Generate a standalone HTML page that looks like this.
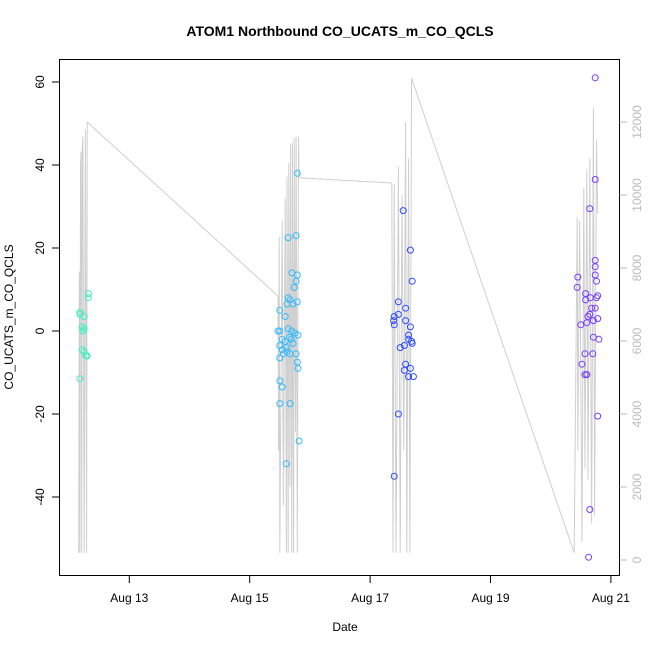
<!DOCTYPE html>
<html><head><meta charset="utf-8"><style>
html,body{margin:0;padding:0;background:#fff}
svg{display:block;font-family:"Liberation Sans",sans-serif}
</style></head><body>
<svg id="chart" width="650" height="650" viewBox="0 0 650 650">
<text x="340" y="36" text-anchor="middle" font-size="14" font-weight="bold">ATOM1 Northbound CO_UCATS_m_CO_QCLS</text>
<g id="alt"></g>
<g id="pts"></g>
<rect x="59.5" y="59.5" width="560" height="516" fill="none" stroke="#000" stroke-width="1"/>
<g id="axes"></g>
<text x="345" y="631" text-anchor="middle" font-size="12">Date</text>
<text transform="translate(13,317) rotate(-90)" text-anchor="middle" font-size="12">CO_UCATS_m_CO_QCLS</text>
</svg>
<script>
const xTickDays=[13,15,17,19,21];
const xTickLabels=["Aug 13","Aug 15","Aug 17","Aug 19","Aug 21"];
const yTicks=[-40,-20,0,20,40,60];
const y2Ticks=[0,2000,4000,6000,8000,10000,12000];
const flight1=[[12.18,4.5],[12.18,4.0],[12.32,9],[12.32,8],[12.25,3.5],[12.22,1],[12.25,0.5],[12.22,-4.5],[12.25,-5],[12.30,-6],[12.28,-6],[12.18,-11.5],[12.23,0]];
const flight2=[[15.79,38],[15.64,22.5],[15.77,23],[15.70,14],[15.79,13.5],[15.77,12],[15.74,10.5],[15.64,8],[15.67,7.5],[15.62,6.5],[15.72,6.5],[15.79,7],[15.50,5],[15.59,3.5],[15.47,0],[15.50,0],[15.64,0.5],[15.70,0],[15.75,-0.5],[15.80,-1],[15.54,-2],[15.59,-2.5],[15.66,-1.5],[15.69,-2],[15.72,-3],[15.50,-3.5],[15.61,-4],[15.54,-4.5],[15.62,-5],[15.67,-5.5],[15.56,-5.5],[15.50,-6.5],[15.77,-5.5],[15.79,-7.5],[15.80,-9],[15.50,-12],[15.54,-13.5],[15.67,-17.5],[15.50,-17.5],[15.82,-26.5],[15.61,-32]];
const flight3=[[17.55,29],[17.67,19.5],[17.70,12],[17.47,7],[17.59,5.5],[17.47,4],[17.40,3.5],[17.39,2.5],[17.40,1.5],[17.59,2.5],[17.67,1],[17.64,-1],[17.69,-2.5],[17.70,-3],[17.57,-3.5],[17.50,-4],[17.64,-2],[17.59,-8],[17.67,-9],[17.57,-9.5],[17.64,-11],[17.72,-11],[17.47,-20],[17.40,-35]];
const flight4=[[20.74,61],[20.74,36.5],[20.65,29.5],[20.74,17],[20.74,15.5],[20.74,13.5],[20.45,13],[20.44,10.5],[20.76,12],[20.58,9],[20.66,8],[20.78,8.5],[20.76,8],[20.58,7.5],[20.68,5.5],[20.74,5.5],[20.62,3.5],[20.65,4],[20.78,3],[20.50,1.5],[20.71,2.5],[20.60,2],[20.71,-1.5],[20.80,-2],[20.57,-5.5],[20.70,-5.5],[20.52,-8],[20.60,-10.5],[20.57,-10.5],[20.78,-20.5],[20.65,-43],[20.63,-54.5]];
const flightColors=["#3cf0c0","#33bbff","#2e4bff","#7a3dff"];
const altDays=[12.16,12.17,12.18,12.19,12.20,12.21,12.22,12.23,12.25,12.27,12.29,12.30,15.47,15.48,15.49,15.50,15.54,15.56,15.59,15.61,15.62,15.64,15.65,15.67,15.68,15.70,15.71,15.73,15.74,15.76,15.77,15.79,15.81,15.82,17.36,17.38,17.40,17.43,17.47,17.50,17.53,17.56,17.59,17.61,17.64,17.66,17.69,20.39,20.44,20.45,20.48,20.52,20.55,20.57,20.60,20.62,20.65,20.68,20.71,20.73,20.76,20.78];
const altValues=[200,7900,200,10800,11200,200,11300,11600,200,11800,200,12000,7230,3000,8850,200,9300,1500,9900,200,10500,200,10880,2000,11400,200,11430,200,11560,3500,11600,200,11600,10470,10330,200,10300,200,10770,200,10000,3000,12000,200,11000,200,13200,200,9400,3000,9300,500,10200,2500,10700,2200,11000,1000,12400,1200,11500,9500];

const NS="http://www.w3.org/2000/svg";
const X=d=>129.3+(d-13)*60.2;
const Y=v=>331-v*4.15;
const Y2=v=>560-v*73/2000;
function mk(tag,attrs,parent){const e=document.createElementNS(NS,tag);for(const k in attrs)e.setAttribute(k,attrs[k]);parent.appendChild(e);return e;}

const alt=document.getElementById('alt');
let d="";
for(let i=0;i<altDays.length;i++){d+=(i?"L":"M")+X(altDays[i]).toFixed(1)+","+Y2(altValues[i]).toFixed(1);}
const altPath=mk('path',{d:d,fill:"none",stroke:"#cfcfcf","stroke-width":1},alt);



const pts=document.getElementById('pts');
[flight1,flight2,flight3,flight4].forEach((fl,fi)=>{
  fl.forEach(p=>{
    const c=mk('circle',{cx:X(p[0]).toFixed(1),cy:Y(p[1]).toFixed(1),r:3,fill:"none",stroke:flightColors[fi],"stroke-width":1},pts);
    
    
  });
});

const ax=document.getElementById('axes');
xTickDays.forEach((t,i)=>{
  const l=mk('line',{x1:X(t),x2:X(t),y1:576,y2:583,stroke:"#000"},ax);
  
  
  const tx=mk('text',{x:X(t),y:602,"text-anchor":"middle","font-size":12},ax);
  tx.textContent=xTickLabels[i];
  
  
});
yTicks.forEach(t=>{
  const l=mk('line',{x1:52,x2:59.5,y1:Y(t),y2:Y(t),stroke:"#000"},ax);
  
  
  const tx=mk('text',{transform:`translate(44,${Y(t)}) rotate(-90)`,"text-anchor":"middle","font-size":12},ax);
  tx.textContent=t;
  
  
});
y2Ticks.forEach(t=>{
  const l=mk('line',{x1:619.5,x2:627,y1:Y2(t),y2:Y2(t),stroke:"#bbb"},ax);
  
  
  const tx=mk('text',{transform:`translate(641,${Y2(t)}) rotate(-90)`,"text-anchor":"middle","font-size":12,fill:"#bbb"},ax);
  tx.textContent=t;
  
  
});
</script>
</body></html>
